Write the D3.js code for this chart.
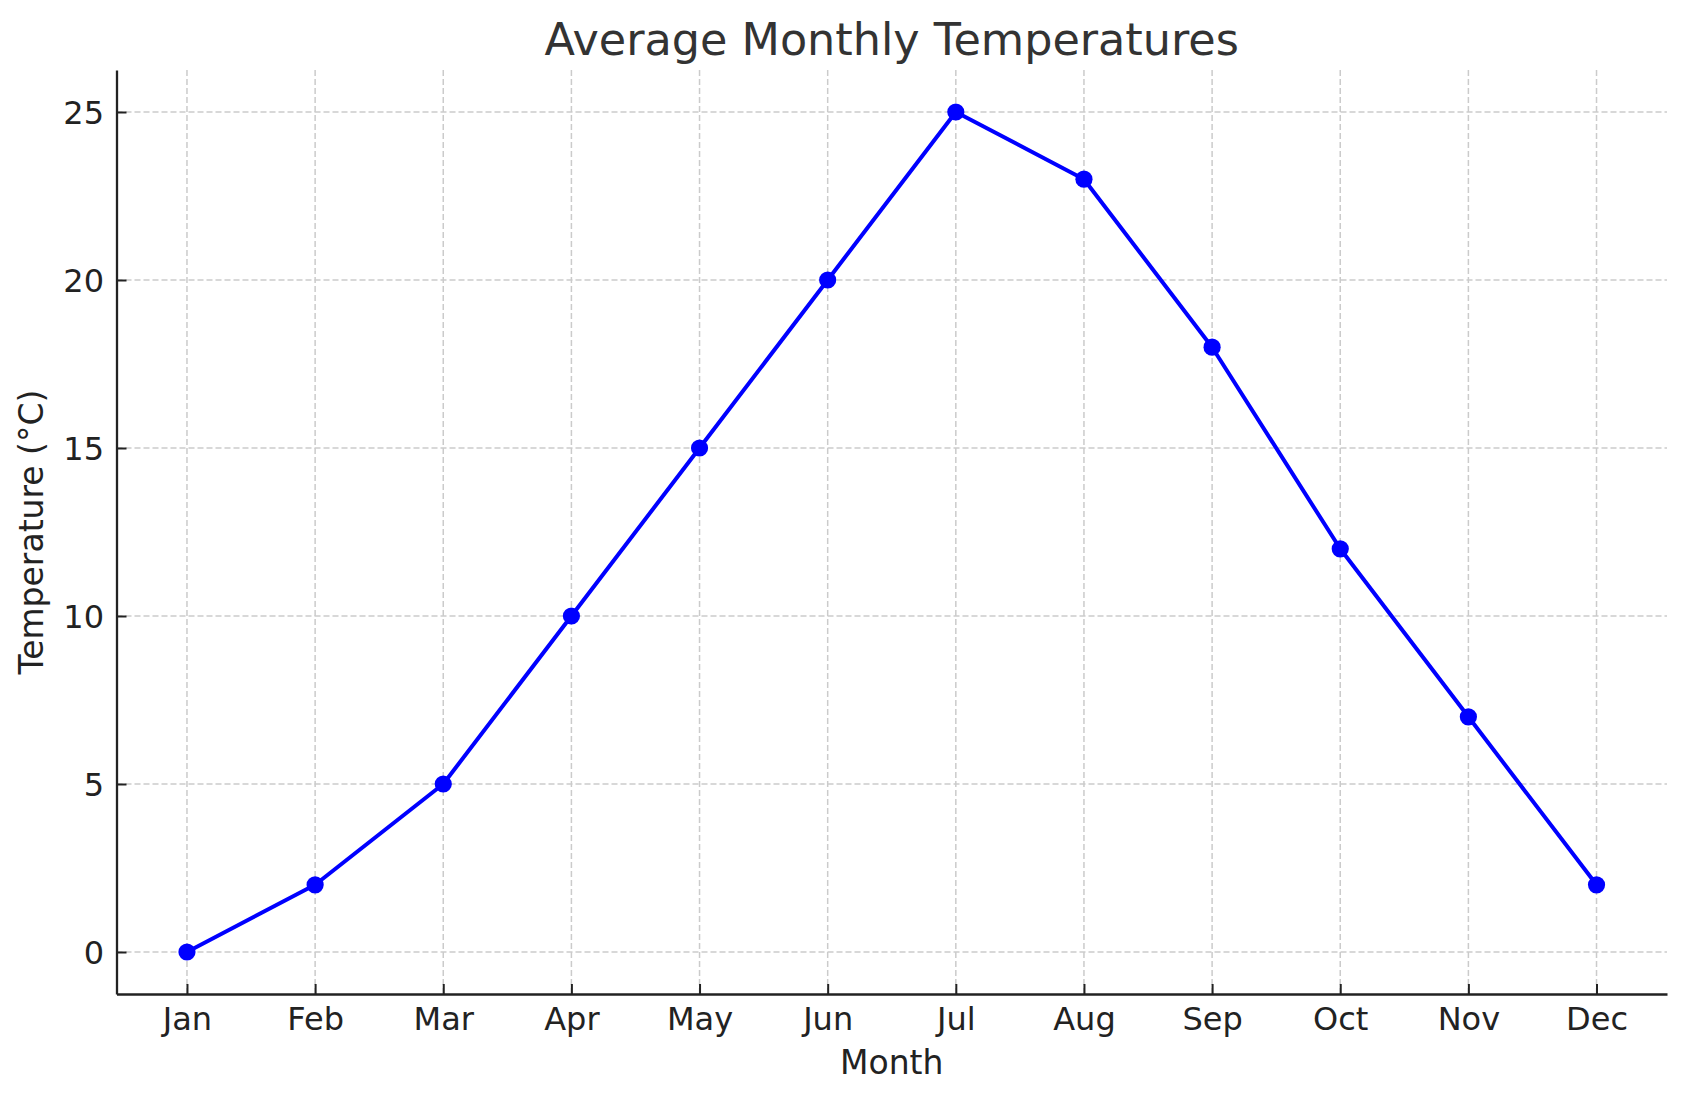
<!DOCTYPE html>
<html>
<head>
<meta charset="utf-8">
<script src="https://cdn.jsdelivr.net/npm/d3@7"></script>
<style>
  body { margin: 0; background: #fff; }
  svg { display: block; font-family: "DejaVu Sans", sans-serif; }
  .axis path, .axis line { stroke: #222; }
  .axis text { fill: #222; font-size: 32px; }
  .grid line { stroke: #cbcbcb; stroke-width: 1.5; stroke-dasharray: 6,3; }
</style>
</head>
<body>
<svg id="chart" width="1686" height="1101"></svg>
<script>
// Chart data
const months = ['Jan', 'Feb', 'Mar', 'Apr', 'May', 'Jun', 'Jul', 'Aug', 'Sep', 'Oct', 'Nov', 'Dec'];
const temps = [0, 2, 5, 10, 15, 20, 25, 23, 18, 12, 7, 2];
const yTicks = [0, 5, 10, 15, 20, 25];

const width = 1686;
const height = 1101;
const margin = { top: 70, right: 19, bottom: 107, left: 116.5 };

const svg = d3.select('#chart');

// matplotlib-like 5% padding on both axes
const xScale = d3.scaleLinear()
  .domain([-0.55, months.length - 1 + 0.55])
  .range([margin.left, width - margin.right]);

const yScale = d3.scaleLinear()
  .domain([-1.25, 26.25])
  .range([height - margin.bottom, margin.top]);

// Grid lines
svg.append('g')
  .attr('class', 'grid')
  .selectAll('line.v')
  .data(months.map((d, i) => i))
  .join('line')
  .attr('x1', d => xScale(d))
  .attr('x2', d => xScale(d))
  .attr('y1', margin.top)
  .attr('y2', height - margin.bottom);

svg.append('g')
  .attr('class', 'grid')
  .selectAll('line.h')
  .data(yTicks)
  .join('line')
  .attr('x1', margin.left)
  .attr('x2', width - margin.right)
  .attr('y1', d => yScale(d))
  .attr('y2', d => yScale(d));

// Axes (ticks point inwards)
const xAxis = d3.axisBottom(xScale)
  .tickValues(months.map((d, i) => i))
  .tickFormat(i => months[i])
  .tickSizeInner(-10)
  .tickSizeOuter(0)
  .tickPadding(13.5);

const yAxis = d3.axisLeft(yScale)
  .tickValues(yTicks)
  .tickSizeInner(-10)
  .tickSizeOuter(0)
  .tickPadding(12.5);

const gx = svg.append('g')
  .attr('class', 'axis')
  .attr('transform', `translate(0, ${height - margin.bottom})`)
  .call(xAxis);

const gy = svg.append('g')
  .attr('class', 'axis')
  .attr('transform', `translate(${margin.left}, 0)`)
  .call(yAxis);

[gx, gy].forEach(g => {
  g.attr('font-family', null).attr('font-size', null);
  g.select('.domain').attr('stroke-width', 2.3);
  g.selectAll('.tick line').attr('stroke-width', 2);
});
gy.selectAll('.tick text').attr('dy', '0.36em');

// Line and markers
const line = d3.line()
  .x((d, i) => xScale(i))
  .y(d => yScale(d));

svg.append('path')
  .datum(temps)
  .attr('fill', 'none')
  .attr('stroke', '#0000ff')
  .attr('stroke-width', 4)
  .attr('stroke-linejoin', 'round')
  .attr('d', line);

svg.append('g')
  .selectAll('circle')
  .data(temps)
  .join('circle')
  .attr('cx', (d, i) => xScale(i))
  .attr('cy', d => yScale(d))
  .attr('r', 8.6)
  .attr('fill', '#0000ff');

// Titles
const plotMidX = (margin.left + width - margin.right) / 2;
const plotMidY = (margin.top + height - margin.bottom) / 2;

svg.append('text')
  .attr('x', plotMidX)
  .attr('y', 55)
  .attr('text-anchor', 'middle')
  .attr('fill', '#333')
  .style('font-size', '44.5px')
  .text('Average Monthly Temperatures');

svg.append('text')
  .attr('x', plotMidX)
  .attr('y', 1074)
  .attr('text-anchor', 'middle')
  .attr('fill', '#222')
  .style('font-size', '33px')
  .text('Month');

svg.append('text')
  .attr('transform', `translate(43, ${plotMidY}) rotate(-90)`)
  .attr('text-anchor', 'middle')
  .attr('fill', '#222')
  .style('font-size', '33px')
  .text('Temperature (°C)');
</script>
</body>
</html>
